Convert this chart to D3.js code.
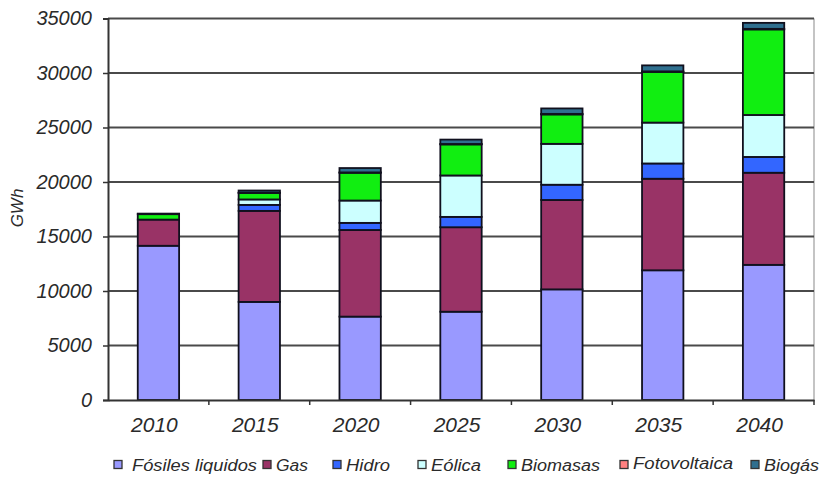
<!DOCTYPE html>
<html>
<head>
<meta charset="utf-8">
<script src="https://cdn.jsdelivr.net/npm/d3@7/dist/d3.min.js"></script>
<style>
  html, body { margin: 0; padding: 0; background: #fff; }
  svg { display: block; }
  text { font-family: "Liberation Sans", Arial, sans-serif; font-style: italic; fill: #2a2a2a; }
</style>
</head>
<body>
<svg id="chart" width="821" height="477"></svg>
<script>
const years = ["2010", "2015", "2020", "2025", "2030", "2035", "2040"];
const seriesNames = ["Fósiles liquidos", "Gas", "Hidro", "Eólica", "Biomasas", "Fotovoltaica", "Biogás"];
const fosiles      = [14150, 9000, 7650, 8100, 10150, 11900, 12400];
const gas          = [2400, 8350, 7950, 7750, 8200, 8400, 8450];
const hidro        = [0, 550, 650, 950, 1400, 1400, 1450];
const eolica       = [0, 500, 2050, 3800, 3750, 3750, 3850];
const biomasas     = [500, 600, 2550, 2850, 2700, 4650, 7850];
const fotovoltaica = [0, 20, 30, 40, 50, 50, 50];
const biogas       = [50, 200, 400, 400, 500, 550, 550];
const yTicks = [0, 5000, 10000, 15000, 20000, 25000, 30000, 35000];
const colors = ["#9999ff", "#993366", "#3366ff", "#ccffff", "#11ee11", "#ff8080", "#2f6f8f"];

const seriesValues = [fosiles, gas, hidro, eolica, biomasas, fotovoltaica, biogas];
const table = years.map((yr, i) => {
  const row = { year: yr };
  seriesNames.forEach((n, k) => row[n] = seriesValues[k][i]);
  return row;
});

const svg = d3.select("#chart");
const pLeft = 108, pRight = 814, pTop = 18.5, pBottom = 400;

const x = d3.scaleBand().domain(years).range([pLeft, pRight]).padding(0);
const y = d3.scaleLinear().domain([0, 35000]).range([pBottom, pTop]);
const barW = x.bandwidth() * 0.41;

// right border of plot area
svg.append("line").attr("x1", pRight).attr("x2", pRight).attr("y1", pTop).attr("y2", pBottom)
  .attr("stroke", "#c4c4c4").attr("stroke-width", 2);

// gridlines
svg.append("g").selectAll("line").data(yTicks.filter(d => d > 0)).join("line")
  .attr("x1", pLeft).attr("x2", pRight)
  .attr("y1", d => y(d)).attr("y2", d => y(d))
  .attr("stroke", "#4a4a4a").attr("stroke-width", 1.8);

// bars
const stack = d3.stack().keys(seriesNames)(table);
svg.append("g").selectAll("g").data(stack).join("g")
  .attr("fill", (d, i) => colors[i])
  .selectAll("rect").data(d => d.filter(s => s[1] - s[0] > 0)).join("rect")
  .attr("x", d => x(d.data.year) + (x.bandwidth() - barW) / 2)
  .attr("width", barW)
  .attr("y", d => y(d[1]))
  .attr("height", d => y(d[0]) - y(d[1]))
  .attr("stroke", "#10101e").attr("stroke-width", 1.8);

// y axis
const yAxis = d3.axisLeft(y).tickValues(yTicks).tickSize(5).tickPadding(11).tickFormat(d3.format("d"));
const gy = svg.append("g").attr("transform", `translate(${pLeft},0)`).call(yAxis);
gy.select(".domain").attr("stroke", "#333").attr("stroke-width", 2);
gy.selectAll(".tick line").attr("stroke", "#333").attr("stroke-width", 1.5);
gy.selectAll(".tick text").style("font-size", "20px").attr("fill", "#2a2a2a");

// x axis
const xAxis = d3.axisBottom(x).tickSize(0).tickPadding(17);
const gx = svg.append("g").attr("transform", `translate(0,${pBottom})`).call(xAxis);
gx.select(".domain").attr("stroke", "#333").attr("stroke-width", 2);
gx.selectAll(".tick text").style("font-size", "21px").attr("fill", "#2a2a2a").attr("dx", -4);
// tick marks at band boundaries
gx.append("g").selectAll("line").data(years).join("line")
  .attr("x1", (d, i) => pLeft + x.step() * (i + 1)).attr("x2", (d, i) => pLeft + x.step() * (i + 1))
  .attr("y1", 0).attr("y2", 5).attr("stroke", "#333").attr("stroke-width", 1.5);

// y label
svg.append("text").attr("transform", "translate(23,208) rotate(-90)")
  .attr("text-anchor", "middle").style("font-size", "17px").text("GWh");

// legend
const legendX = [114, 263, 333, 418, 508, 620, 751];
const legendW = [125, 32, 44, 50, 79, 100, 55];
const lg = svg.append("g").selectAll("g").data(seriesNames).join("g")
  .attr("transform", (d, i) => `translate(${legendX[i]},465)`);
lg.append("rect").attr("x", 0).attr("y", -4.5).attr("width", 8).attr("height", 8)
  .attr("fill", (d, i) => colors[i]).attr("stroke", "#333").attr("stroke-width", 1.3);
lg.append("text").attr("x", (d, i) => i === 0 ? 18 : 13).attr("y", (d, i) => i === 5 ? -2 : 0).attr("dy", "0.35em")
  .style("font-size", "16px")
  .attr("textLength", (d, i) => legendW[i]).attr("lengthAdjust", "spacingAndGlyphs")
  .text(d => d);
</script>
</body>
</html>
